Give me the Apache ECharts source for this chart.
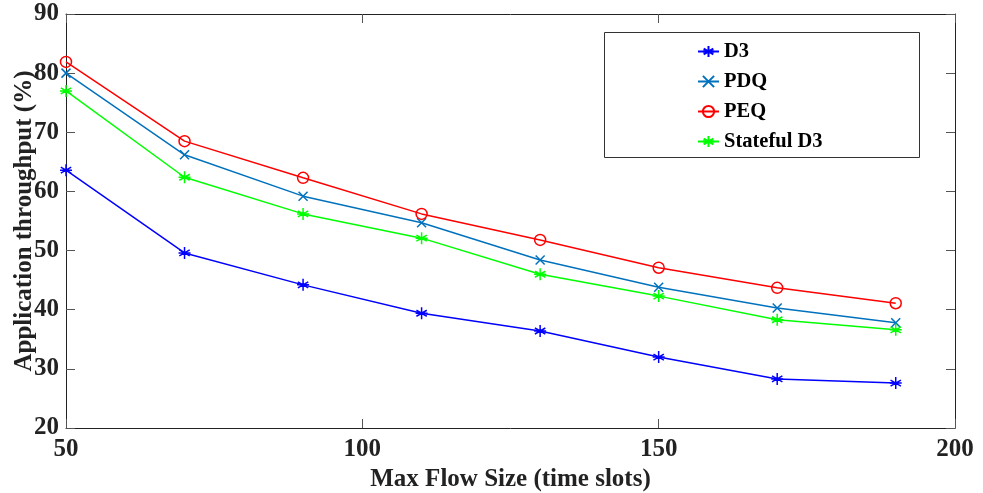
<!DOCTYPE html>
<html><head><meta charset="utf-8">
<script src="https://cdn.jsdelivr.net/npm/echarts@6/dist/echarts.min.js"></script>
<style>html,body{margin:0;padding:0;background:#fff}#c{width:983px;height:493px}</style>
</head><body><div id="c"></div>
<script>
const xValues = [50, 70, 90, 110, 130, 150, 170, 190];
const d3 = [63.6, 49.6, 44.2, 39.4, 36.4, 32.0, 28.3, 27.6];
const pdq = [80.0, 66.2, 59.2, 54.7, 48.4, 43.8, 40.3, 37.8];
const peq = [81.9, 68.5, 62.3, 56.2, 51.8, 47.1, 43.7, 41.1];
const statefulD3 = [77.0, 62.4, 56.2, 52.1, 46.0, 42.3, 38.3, 36.6];
const seriesNames = ['D3', 'PDQ', 'PEQ', 'Stateful D3'];

const FONT = '"Liberation Serif", "Times New Roman", serif';
const asterisk = 'path://M0,-10L0,10M-8.66,-5L8.66,5M-8.66,5L8.66,-5M-10,0L10,0Z';
const cross = 'path://M-7,-7L7,7M-7,7L7,-7';
const pair = arr => xValues.map((x, i) => [x, arr[i]]);

function mk(name, data, color, symbol, size, fill) {
  return {
    name, type: 'line', data: pair(data), symbol, symbolSize: size,
    showSymbol: true,
    lineStyle: { color, width: 1.5 },
    itemStyle: { color: fill ? color : 'rgba(0,0,0,0)', borderColor: color, borderWidth: 1.5 },
    emphasis: { disabled: true }, animation: false
  };
}
const chart = echarts.init(document.getElementById('c'));
chart.setOption({
  animation: false,
  grid: { left: 66, right: 28, top: 14, bottom: 65, outerBoundsMode: 'none', containLabel: false },
  graphic: [{ type: 'rect', left: 604, top: 32, shape: { width: 315, height: 125 }, style: { fill: '#fff', stroke: '#333', lineWidth: 1 }, z: 50 }],
  legend: {
    orient: 'vertical', left: 692, top: 36, itemGap: 9, itemWidth: 21, itemHeight: 14, z: 60,
    textStyle: { fontFamily: FONT, fontWeight: 'bold', fontSize: 20.5, lineHeight: 20, color: '#000' },
    data: seriesNames
  },
  xAxis: [{
    type: 'value', min: 50, max: 200, interval: 50,
    name: 'Max Flow Size (time slots)', nameLocation: 'middle', nameGap: 38,
    nameTextStyle: { fontFamily: FONT, fontWeight: 'bold', fontSize: 25, color: '#222' },
    axisLine: { lineStyle: { color: '#222', width: 1 } },
    axisTick: { inside: true, length: 9, lineStyle: { color: '#555' } },
    axisLabel: { fontFamily: FONT, fontWeight: 'bold', fontSize: 25, color: '#222', margin: 9 },
    splitLine: { show: false }
  }, {
    type: 'value', position: 'top', min: 50, max: 200, interval: 50,
    axisLine: { show: true, lineStyle: { color: '#222', width: 1 } },
    axisTick: { inside: true, length: 9, lineStyle: { color: '#555' } },
    axisLabel: { show: false }, splitLine: { show: false }
  }],
  yAxis: [{
    type: 'value', min: 20, max: 90, interval: 10,
    name: 'Application throughput (%)', nameLocation: 'middle', nameGap: 29, nameRotate: 90,
    nameMoveOverlap: false,
    nameTextStyle: { fontFamily: FONT, fontWeight: 'bold', fontSize: 25, color: '#222' },
    axisLine: { show: true, lineStyle: { color: '#222', width: 1 } },
    axisTick: { inside: true, length: 9, lineStyle: { color: '#555' } },
    axisLabel: { fontFamily: FONT, fontWeight: 'bold', fontSize: 25, color: '#222', margin: 7 },
    splitLine: { show: false }
  }, {
    type: 'value', position: 'right', min: 20, max: 90, interval: 10,
    axisLine: { show: true, lineStyle: { color: '#222', width: 1 } },
    axisTick: { inside: true, length: 9, lineStyle: { color: '#555' } },
    axisLabel: { show: false }, splitLine: { show: false }
  }],
  series: [
    mk('D3', d3, '#0000ff', asterisk, 12, true),
    mk('PDQ', pdq, '#0072bd', cross, 9, true),
    mk('PEQ', peq, '#ff0000', 'circle', 11, false),
    mk('Stateful D3', statefulD3, '#00ff00', asterisk, 12, true)
  ]
});
</script></body></html>
